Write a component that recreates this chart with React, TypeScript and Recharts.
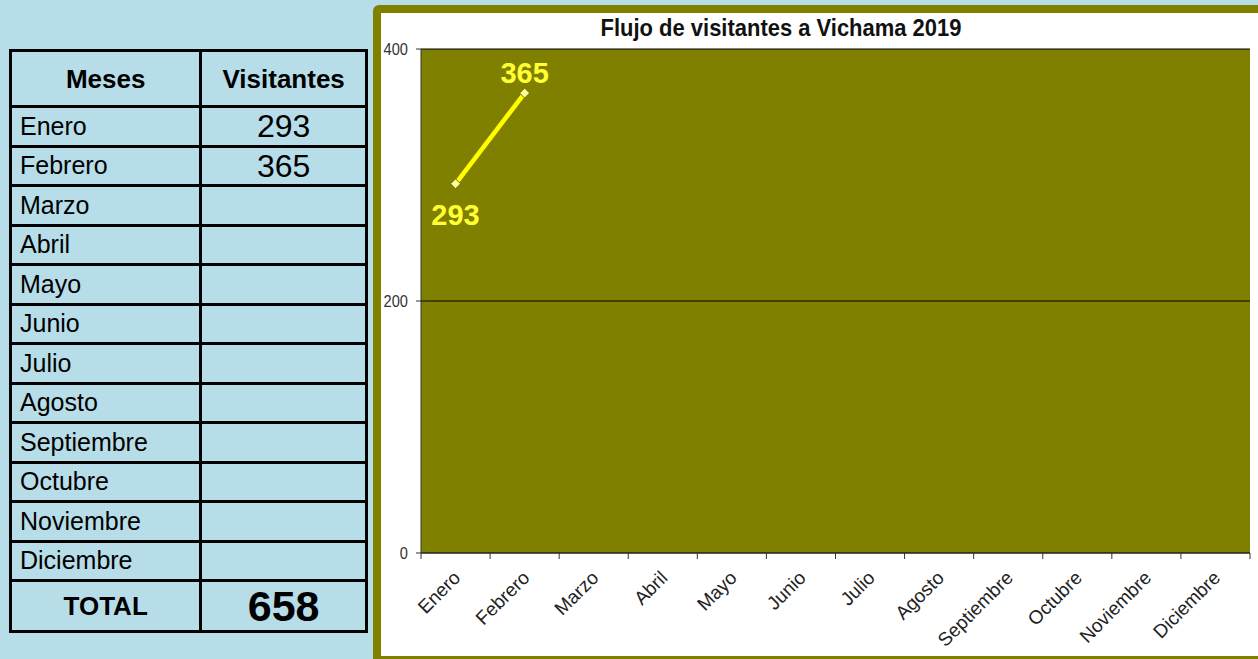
import React from 'react';
import { LineChart, Line, XAxis, YAxis, CartesianGrid } from 'recharts';

const meses = [
  'Enero', 'Febrero', 'Marzo', 'Abril', 'Mayo', 'Junio',
  'Julio', 'Agosto', 'Septiembre', 'Octubre', 'Noviembre', 'Diciembre',
];
const visitantes: (number | null)[] = [293, 365, null, null, null, null, null, null, null, null, null, null];
const yTicks = [0, 200, 400];
const titulo = 'Flujo de visitantes a Vichama 2019';

const OLIVE = '#808000';
const SKY = '#b7dde8';
const ARIAL = '"Liberation Sans", Arial, sans-serif';

const data = meses.map((mes, i) => ({ mes, visitantes: visitantes[i] }));
const total = visitantes.reduce<number>((s, v) => s + (v ?? 0), 0);

const MonthTick = (props: any) => {
  const { x, y, payload, index } = props;
  const half = payload?.offset || 34.5;
  const isLast = index === meses.length - 1 || payload?.value === meses[meses.length - 1];
  const tx = x + 6;
  const ty = y + 26;
  return (
    <g>
      <line x1={x - half} x2={x - half} y1={y} y2={y + 6} stroke="#333" />
      {isLast && <line x1={x + half} x2={x + half} y1={y} y2={y + 6} stroke="#333" />}
      <text
        x={tx}
        y={ty}
        textAnchor="end"
        transform={`rotate(-45 ${tx} ${ty})`}
        fontFamily={ARIAL}
        fontSize={19}
        fill="#222"
      >
        {payload.value}
      </text>
    </g>
  );
};

const CountTick = (props: any) => {
  const { x, y, payload } = props;
  return (
    <text
      transform={`translate(${x} ${y + 6}) scale(0.86 1)`}
      textAnchor="end"
      fontFamily={ARIAL}
      fontSize={17}
      fill="#333"
    >
      {payload.value}
    </text>
  );
};

const Diamond = (props: any) => {
  const { cx, cy, value, index } = props;
  if (value == null || cy == null) return <g key={`d-${index}`} />;
  const r = 5;
  return (
    <polygon
      key={`d-${index}`}
      points={`${cx},${cy - r} ${cx + r},${cy} ${cx},${cy + r} ${cx - r},${cy}`}
      fill="#ffff99"
      stroke="#6b6b00"
      strokeWidth={1}
    />
  );
};

const ValueLabel = (props: any) => {
  const { x, y, value, index } = props;
  if (value == null || y == null) return null;
  const below = index === 0;
  return (
    <text
      x={x}
      y={below ? y + 41 : y - 10}
      textAnchor="middle"
      fontFamily={ARIAL}
      fontWeight="bold"
      fontSize={29}
      fill="#ffff33"
    >
      {value}
    </text>
  );
};

const cell: React.CSSProperties = {
  border: '3px solid #000',
  padding: 0,
  lineHeight: 1,
  verticalAlign: 'middle',
};

export default function App() {
  return (
    <div
      style={{
        position: 'absolute',
        left: 0,
        top: 0,
        width: 1258,
        height: 659,
        overflow: 'hidden',
        background: SKY,
      }}
    >
      <table
        style={{
          position: 'absolute',
          left: 9,
          top: 49,
          width: 359,
          borderCollapse: 'collapse',
          fontFamily: ARIAL,
          color: '#000',
        }}
      >
        <colgroup>
          <col style={{ width: 192 }} />
          <col style={{ width: 167 }} />
        </colgroup>
        <tbody>
          <tr style={{ height: 56 }}>
            <td style={{ ...cell, textAlign: 'center', fontWeight: 'bold', fontSize: 26 }}>Meses</td>
            <td style={{ ...cell, textAlign: 'center', fontWeight: 'bold', fontSize: 26 }}>Visitantes</td>
          </tr>
          {meses.map((m, i) => (
            <tr key={m} style={{ height: 39.5 }}>
              <td style={{ ...cell, fontSize: 25, paddingLeft: 8 }}>{m}</td>
              <td style={{ ...cell, textAlign: 'center', fontSize: 32 }}>{visitantes[i] ?? ''}</td>
            </tr>
          ))}
          <tr style={{ height: 51 }}>
            <td style={{ ...cell, textAlign: 'center', fontWeight: 'bold', fontSize: 26 }}>TOTAL</td>
            <td style={{ ...cell, textAlign: 'center', fontWeight: 'bold', fontSize: 43 }}>{total}</td>
          </tr>
        </tbody>
      </table>

      <div
        style={{
          position: 'absolute',
          left: 373,
          top: 5,
          width: 877,
          height: 643,
          border: `8px solid ${OLIVE}`,
          borderRadius: 6,
          background: '#fff',
        }}
      >
        <div
          style={{
            position: 'absolute',
            left: 200,
            top: 3,
            width: 400,
            textAlign: 'center',
            fontFamily: ARIAL,
            fontWeight: 'bold',
            fontSize: 24,
            lineHeight: '24px',
            color: '#111',
            transform: 'scaleX(0.915)',
            whiteSpace: 'nowrap',
          }}
        >
          {titulo}
        </div>
        <LineChart
          width={877}
          height={643}
          data={data}
          margin={{ top: 36, right: 8, left: 0, bottom: 0 }}
        >
          <CartesianGrid vertical={false} stroke="#000" fill={OLIVE} fillOpacity={1} />
          <XAxis
            dataKey="mes"
            scale="band"
            height={103}
            interval={0}
            tickSize={0}
            tickMargin={0}
            tickLine={false}
            axisLine={{ stroke: '#333' }}
            tick={<MonthTick />}
          />
          <YAxis
            width={40}
            domain={[0, 400]}
            ticks={yTicks}
            tickSize={5}
            tickMargin={8}
            axisLine={{ stroke: '#333' }}
            tickLine={{ stroke: '#333' }}
            tick={<CountTick />}
          />
          <Line
            dataKey="visitantes"
            stroke="#ffff00"
            strokeWidth={4.5}
            dot={<Diamond />}
            activeDot={false}
            label={<ValueLabel />}
            isAnimationActive={false}
          />
        </LineChart>
      </div>
    </div>
  );
}
